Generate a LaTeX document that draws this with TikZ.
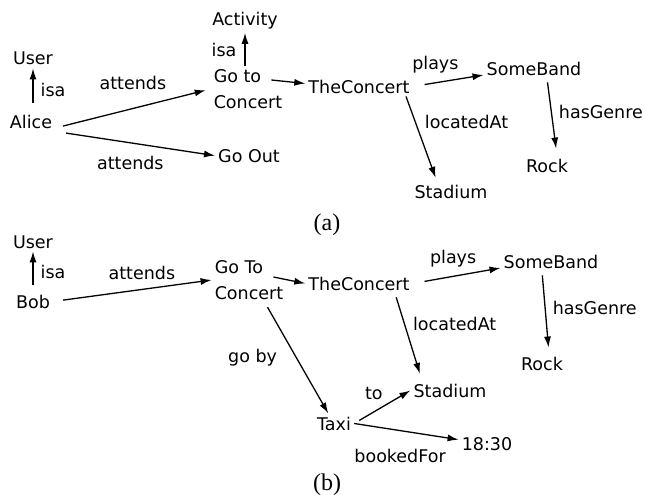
\documentclass[tikz,border=0pt]{standalone}
\usepackage{fontspec}
\usetikzlibrary{arrows.meta}
\newfontfamily\dejavu{DejaVu Sans}
\newfontfamily\capfont{Liberation Serif}
\newcommand\entfont{\dejavu\fontsize{17.5}{26}\selectfont}
\tikzset{ent/.style={inner sep=3pt, font=\entfont},
	lbl/.style={inner sep=3pt, font=\entfont},
	capt/.style={inner sep=0pt, font=\capfont\fontsize{24}{26}\selectfont},
	rel/.style={draw, line width=1.3pt, -{Latex[length=11pt,width=7pt]}}}

\begin{document}
\begin{tikzpicture}[x=1pt, y=-1pt]
		\useasboundingbox (0,0) rectangle (645,495);
		% (a)
		\node[ent, anchor=base] (userA) at (33,65) {User};
		\node[ent, anchor=base] (alice) at (31,128) {Alice};
		\node[ent, anchor=base] (activity) at (245,26) {Activity};
		\node[ent, align=left] (goto) at (248,89) {Go to\\Concert};
		\node[ent, anchor=base] (goout) at (249,162) {Go Out};
		\node[ent, anchor=base] (concertA) at (359,93) {TheConcert};
		\node[ent, anchor=base] (bandA) at (534,75) {SomeBand};
		\node[ent, anchor=base] (rockA) at (547,172) {Rock};
		\node[ent, anchor=base] (stadiumA) at (451,198) {Stadium};
		\node[capt, anchor=base] (capA) at (327,230) {(a)};
		\draw[rel, shorten <=8.7pt] (userA |- alice.north) -- node[lbl, right=4pt] {isa} (userA);
		\draw[rel] (activity |- goto.north) -- node[lbl, left=5pt] {isa} (activity);
		\draw[rel, shorten <=8pt, shorten >=5pt] (alice.base east) -- node[lbl, above=15pt] {attends} (goto.west);
		\draw[rel, shorten <=11pt] (alice.south east) -- node[lbl, below=10pt, pos=.47] {attends} (goout.west);
		\draw[rel] ([shift={(-14pt,9pt)}]goto.east) -- ([yshift=3pt]concertA.west);
		\draw[rel, shorten <=12pt] (concertA.east) -- node[lbl, above=6pt, pos=.32] {plays} (bandA.base west);
		\draw[rel, shorten <=4pt, shorten >=7pt] ([xshift=13pt]bandA.south) -- node[lbl, right=4pt, pos=.43] {hasGenre} ([xshift=10pt]rockA.north);
		\draw[rel, shorten >=4pt] ([xshift=47pt]concertA.south) -- node[lbl, right=6pt, pos=.3] {locatedAt} ([xshift=-14pt]stadiumA.north);
		% (b)
		\node[ent, anchor=base] (userB) at (33,248) {User};
		\node[ent, anchor=base] (bob) at (33,308) {Bob};
		\node[ent, align=left] (gotoB) at (249,280) {Go To\\Concert};
		\node[ent, anchor=base] (concertB) at (359,290) {TheConcert};
		\node[ent, anchor=base] (bandB) at (551,268) {SomeBand};
		\node[ent, anchor=base] (rockB) at (542,370) {Rock};
		\node[ent, anchor=base] (stadiumB) at (450,397) {Stadium};
		\node[ent, anchor=base] (taxi) at (334,430) {Taxi};
		\node[ent, anchor=base] (time) at (487,450) {18:30};
		\node[capt, anchor=base] (capB) at (327,490) {(b)};
		\draw[rel, shorten <=6.7pt] (userB |- bob.north) -- node[lbl, right=4pt] {isa} (userB);
		\draw[rel, shorten <=10pt] (bob.east) -- node[lbl, above=6pt, pos=.56] {attends} (gotoB.west);
		\draw[rel] ([shift={(-13pt,3pt)}]gotoB.east) -- (concertB.west);
		\draw[rel, shorten <=12pt] (concertB.east) -- node[lbl, above=6pt, pos=.46] {plays} (bandB.base west);
		\draw[rel, shorten <=4pt, shorten >=6pt] ([xshift=-9pt]bandB.south) -- node[lbl, right=4pt, pos=.45] {hasGenre} ([xshift=7pt]rockB.north);
		\draw[rel, shorten <=4pt, shorten >=7pt] ([xshift=36pt]concertB.south) -- node[lbl, right=5pt, pos=.35] {locatedAt} ([xshift=-28pt]stadiumB.north);
		\draw[rel, shorten <=5pt] ([xshift=16pt]gotoB.south) -- node[lbl, left=16pt] {go by} (taxi);
		\draw[rel, shorten <=6pt] (taxi.east) -- node[lbl, above=9pt, pos=.35] {to} (stadiumB.west);
		\draw[rel] (taxi.east) -- node[lbl, below=15pt, pos=.44] {bookedFor} ([yshift=4pt]time.west);
		\end{tikzpicture}
\end{document}
